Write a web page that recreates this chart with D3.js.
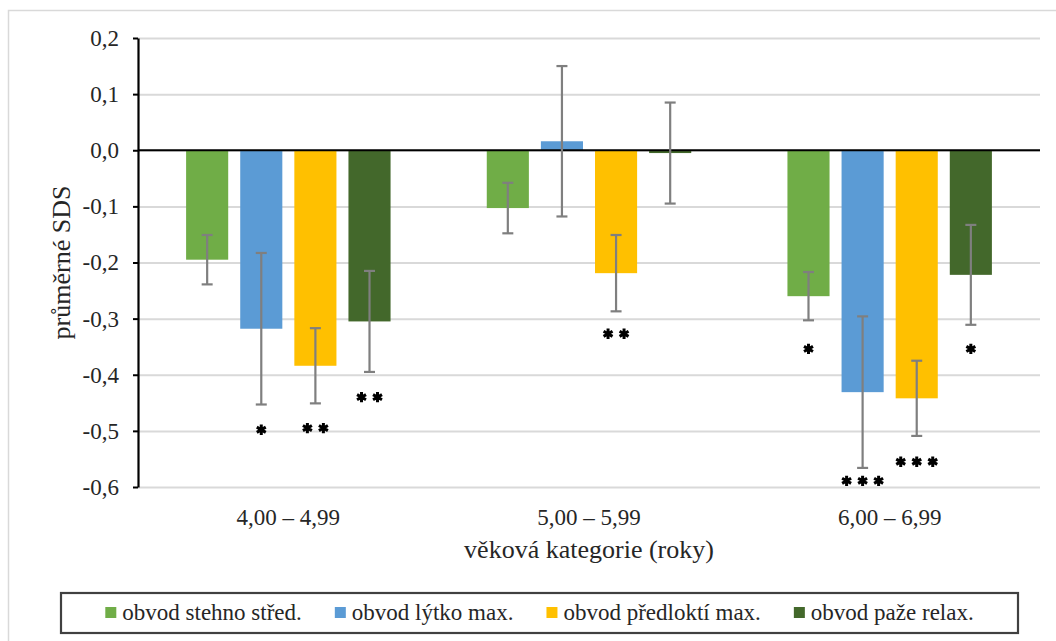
<!DOCTYPE html>
<html>
<head>
<meta charset="utf-8">
<script src="https://cdn.jsdelivr.net/npm/d3@7"></script>
<style>
  html, body { margin: 0; padding: 0; background: #fff; }
  svg { display: block; }
  svg text { font-family: "Liberation Serif", "Tinos", "Times New Roman", Times, "DejaVu Serif", serif !important; fill: #262626; }
</style>
</head>
<body>
<svg id="chart" width="1056" height="641"></svg>
<script>
// ---- data ----
const categories = ["4,00 – 4,99", "5,00 – 5,99", "6,00 – 6,99"];
const seriesNames = ["obvod stehno střed.", "obvod lýtko max.", "obvod předloktí max.", "obvod paže relax."];
const seriesColors = ["#70AD47", "#5B9BD5", "#FFC000", "#43682B"];
// mean SDS per series, one value per category
const stehno   = [-0.195, -0.103, -0.260];
const lytko    = [-0.318,  0.016, -0.431];
const predlokti= [-0.384, -0.219, -0.442];
const paze     = [-0.305, -0.005, -0.222];
// error (± half-length)
const errStehno    = [0.044, 0.045, 0.043];
const errLytko     = [0.135, 0.134, 0.135];
const errPredlokti = [0.067, 0.068, 0.067];
const errPaze      = [0.090, 0.090, 0.089];
// significance marks (count of asterisks) and the SDS value where they are placed
const sigStehno    = [0, 0, 1];
const sigLytko     = [1, 0, 3];
const sigPredlokti = [2, 2, 3];
const sigPaze      = [2, 0, 1];
const sigPosStehno    = [null, null, -0.354];
const sigPosLytko     = [-0.498, null, -0.589];
const sigPosPredlokti = [-0.495, -0.327, -0.555];
const sigPosPaze      = [-0.440, null, -0.354];
const yTicks = [0.2, 0.1, 0.0, -0.1, -0.2, -0.3, -0.4, -0.5, -0.6];
const yTitle = "průměrné SDS";
const xTitle = "věková kategorie (roky)";

const values = [stehno, lytko, predlokti, paze];
const errors = [errStehno, errLytko, errPredlokti, errPaze];
const sigs = [sigStehno, sigLytko, sigPredlokti, sigPaze];
const sigPos = [sigPosStehno, sigPosLytko, sigPosPredlokti, sigPosPaze];

const rows = [];
seriesNames.forEach((s, si) => {
  categories.forEach((c, ci) => {
    rows.push({ series: s, si, cat: c, v: values[si][ci], e: errors[si][ci], sig: sigs[si][ci], sp: sigPos[si][ci] });
  });
});

const FONT = '"Liberation Serif", "Tinos", "Times New Roman", Times, "DejaVu Serif", serif';

// ---- layout ----
const svg = d3.select("#chart").attr("font-family", FONT);
const plot = { left: 138, right: 1040, top: 38, bottom: 487 };

svg.append("rect").attr("x", 8.5).attr("y", 10.5).attr("width", 1060).attr("height", 700)
  .attr("fill", "#fff").attr("stroke", "#d9d9d9").attr("stroke-width", 1.5);

const y = d3.scaleLinear().domain([-0.6, 0.2]).range([plot.bottom, plot.top]);
const x0 = d3.scaleBand().domain(categories).range([plot.left, plot.right]);
const bw = x0.bandwidth();
const x1 = d3.scaleBand().domain(seriesNames).range([bw * 0.16, bw * 0.84]).paddingInner(0.222);
const color = d3.scaleOrdinal().domain(seriesNames).range(seriesColors);

const loc = d3.formatLocale({ decimal: ",", thousands: " ", grouping: [3], currency: ["", ""], minus: "-" });
const fmt = loc.format(".1f");

// gridlines
svg.append("g").attr("transform", `translate(${plot.left},0)`)
  .call(d3.axisLeft(y).tickValues(yTicks).tickSize(-(plot.right - plot.left)).tickFormat(""))
  .call(g => g.select(".domain").remove())
  .call(g => g.selectAll("line").attr("stroke", "#d9d9d9").attr("stroke-width", 2));

// bars
svg.append("g").selectAll("rect").data(rows).join("rect")
  .attr("x", d => x0(d.cat) + x1(d.series))
  .attr("width", x1.bandwidth())
  .attr("y", d => y(Math.max(0, d.v)))
  .attr("height", d => Math.abs(y(d.v) - y(0)))
  .attr("fill", d => color(d.series));

// zero line
svg.append("line").attr("x1", plot.left).attr("x2", plot.right)
  .attr("y1", y(0)).attr("y2", y(0)).attr("stroke", "#000").attr("stroke-width", 2);

// y axis
svg.append("g").attr("transform", `translate(${plot.left},0)`)
  .call(d3.axisLeft(y).tickValues(yTicks).tickSizeInner(5).tickSizeOuter(0).tickPadding(14).tickFormat(fmt))
  .attr("font-family", FONT)
  .call(g => g.select(".domain").attr("stroke", "#000").attr("stroke-width", 2.2))
  .call(g => g.selectAll(".tick line").attr("stroke", "#000").attr("stroke-width", 2))
  .call(g => g.selectAll("text").attr("font-size", 23).attr("fill", "#262626"));

// error bars
const eg = svg.append("g").attr("stroke", "#7F7F7F").attr("stroke-width", 2.2);
rows.forEach(d => {
  const cx = x0(d.cat) + x1(d.series) + x1.bandwidth() / 2;
  const capW = 5.5;
  eg.append("line").attr("x1", cx).attr("x2", cx).attr("y1", y(d.v + d.e)).attr("y2", y(d.v - d.e));
  eg.append("line").attr("x1", cx - capW).attr("x2", cx + capW).attr("y1", y(d.v + d.e)).attr("y2", y(d.v + d.e));
  eg.append("line").attr("x1", cx - capW).attr("x2", cx + capW).attr("y1", y(d.v - d.e)).attr("y2", y(d.v - d.e));
});

// significance asterisks
const star = d3.symbol().type(d3.symbolAsterisk).size(75);
const sg = svg.append("g");
rows.filter(d => d.sig > 0).forEach(d => {
  const cx = x0(d.cat) + x1(d.series) + x1.bandwidth() / 2;
  const spacing = 16;
  for (let k = 0; k < d.sig; k++) {
    const sx = cx + (k - (d.sig - 1) / 2) * spacing;
    sg.append("path").attr("d", star).attr("transform", `translate(${sx},${y(d.sp)})`)
      .attr("stroke", "#000").attr("stroke-width", 3).attr("fill", "none");
  }
});

// category labels
svg.append("g").selectAll("text").data(categories).join("text")
  .attr("x", d => x0(d) + bw / 2).attr("y", 525)
  .attr("text-anchor", "middle").attr("font-size", 23).text(d => d);

// axis titles
svg.append("text").attr("x", (plot.left + plot.right) / 2).attr("y", 558)
  .attr("text-anchor", "middle").attr("font-size", 26).text(xTitle);
svg.append("text").attr("transform", `translate(70,${(plot.top + plot.bottom) / 2}) rotate(-90)`)
  .attr("text-anchor", "middle").attr("font-size", 26).text(yTitle);

// legend
const lg = svg.append("g");
const boxL = 61, boxR = 1018, boxT = 593, boxB = 633;
lg.append("rect").attr("x", boxL).attr("y", boxT).attr("width", boxR - boxL).attr("height", boxB - boxT)
  .attr("fill", "#fff").attr("stroke", "#404040").attr("stroke-width", 2.2);
const items = lg.append("g");
let cx = 0;
seriesNames.forEach((s, i) => {
  const it = items.append("g").attr("transform", `translate(${cx},0)`);
  it.append("rect").attr("x", 0).attr("y", -6).attr("width", 11).attr("height", 11).attr("fill", color(s));
  const t = it.append("text").attr("x", 17).attr("y", 7).attr("font-size", 23).text(s);
  cx += 17 + t.node().getComputedTextLength() + 33;
});
const totalW = cx - 33;
items.attr("transform", `translate(${(boxL + boxR) / 2 - totalW / 2},613)`);
</script>
</body>
</html>
